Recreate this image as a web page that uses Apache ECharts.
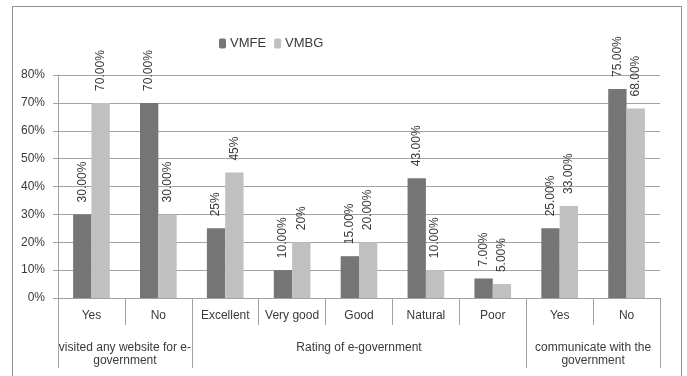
<!DOCTYPE html>
<html>
<head>
<meta charset="utf-8">
<script src="https://cdn.jsdelivr.net/npm/echarts@6/dist/echarts.min.js"></script>
<style>
  html, body { margin: 0; padding: 0; background: #fff; }
  #chart { width: 687px; height: 376px; }
</style>
</head>
<body>
<div id="chart"></div>
<script>
// Answer categories along the x axis
const categories = ['Yes', 'No', 'Excellent', 'Very good', 'Good', 'Natural', 'Poor', 'Yes', 'No'];

// Question groups: name, first category index, category count
const groupNames = ['visited any website for e-\ngovernment', 'Rating of e-government', 'communicate with the\ngovernment'];
const groupStarts = [0, 2, 7];
const groupSizes = [2, 5, 2];

// Percentages per series
const vmfe = [30, 70, 25, 10, 15, 43, 7, 25, 75];
const vmbg = [70, 30, 45, 20, 20, 10, 5, 33, 68];

// Decimal places shown in each value label
const vmfeDecimals = [2, 2, 0, 2, 2, 2, 2, 2, 2];
const vmbgDecimals = [2, 2, 0, 0, 2, 2, 2, 2, 2];

// Y axis tick range
const yMin = 0, yMax = 80, yStep = 10;

const FONT = '"Liberation Sans", Arial, sans-serif';
const TEXT = '#3a3a3a';
const LINE = '#a3a3a3';

const groupEdges = groupStarts.concat([categories.length]);
const groupCenters = groupStarts.map((s, i) => s + groupSizes[i] / 2);

function valueLabel(decimals) {
  return {
    show: true,
    position: 'top',
    distance: 12,
    rotate: 90,
    align: 'left',
    verticalAlign: 'middle',
    fontFamily: FONT,
    fontSize: 12,
    color: TEXT,
    formatter: p => p.value.toFixed(decimals[p.dataIndex]) + '%'
  };
}

const chart = echarts.init(document.getElementById('chart'), null, { renderer: 'canvas' });
chart.setOption({
  animation: false,
  backgroundColor: '#fff',
  textStyle: { fontFamily: FONT },
  graphic: [{
    type: 'rect',
    shape: { x: 12.5, y: 6.5, width: 669, height: 390 },
    style: { fill: 'none', stroke: '#8e8e8e', lineWidth: 1 },
    silent: true
  }],
  legend: {
    left: 214,
    top: 32,
    itemWidth: 7,
    itemHeight: 10,
    itemGap: 8,
    textStyle: { fontFamily: FONT, fontSize: 13, color: TEXT, padding: [0, 0, 0, -1] },
    data: ['VMFE', 'VMBG']
  },
  grid: { left: 58, right: 27, top: 75, bottom: 78, containLabel: false },
  xAxis: [{
    type: 'category',
    data: categories,
    axisLine: { show: true, lineStyle: { color: LINE, width: 1 } },
    axisTick: { show: true, length: 27, lineStyle: { color: LINE } },
    axisLabel: { fontFamily: FONT, fontSize: 12, color: TEXT, margin: 12, interval: 0 },
    splitLine: { show: false }
  }, {
    type: 'value',
    position: 'bottom',
    min: 0,
    max: categories.length,
    axisLine: { show: false },
    splitLine: { show: false },
    axisTick: { show: true, length: 70, customValues: groupEdges, lineStyle: { color: LINE } },
    axisLabel: {
      show: true,
      customValues: groupCenters,
      margin: 43,
      fontFamily: FONT,
      fontSize: 12,
      lineHeight: 13,
      color: TEXT,
      formatter: v => {
        const i = groupCenters.indexOf(v);
        return i >= 0 ? groupNames[i] : '';
      }
    }
  }],
  yAxis: {
    type: 'value',
    min: yMin,
    max: yMax,
    interval: yStep,
    axisLine: { show: true, lineStyle: { color: LINE } },
    axisTick: { show: true, length: 5, lineStyle: { color: LINE } },
    axisLabel: { fontFamily: FONT, fontSize: 12, color: TEXT, margin: 13, formatter: '{value}%' },
    splitLine: { show: true, lineStyle: { color: LINE, width: 1 } }
  },
  series: [{
    name: 'VMFE',
    type: 'bar',
    data: vmfe,
    itemStyle: { color: '#757575' },
    barWidth: '27.4%',
    barGap: '0%',
    label: valueLabel(vmfeDecimals)
  }, {
    name: 'VMBG',
    type: 'bar',
    data: vmbg,
    itemStyle: { color: '#c0c0c0' },
    barWidth: '27.4%',
    barGap: '0%',
    label: valueLabel(vmbgDecimals)
  }]
});
</script>
</body>
</html>
